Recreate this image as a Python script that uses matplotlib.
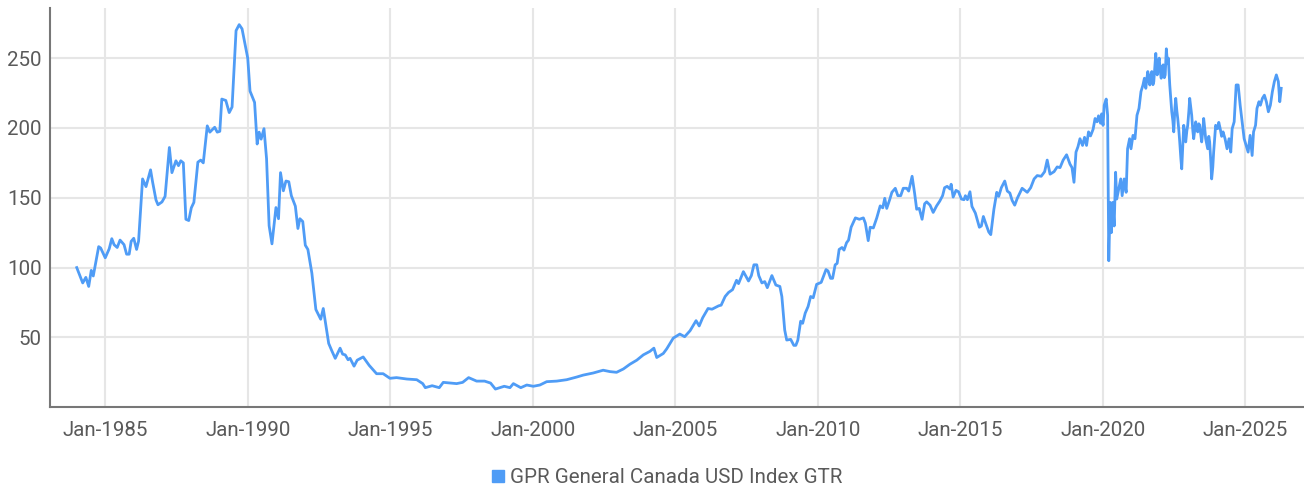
import matplotlib.pyplot as plt
from matplotlib.lines import Line2D

# Index level (decimal year, value)
years = [
    1984.00, 1984.21, 1984.32, 1984.42, 1984.51, 1984.58, 1984.77, 1984.84, 1985.00, 1985.14,
    1985.23, 1985.31, 1985.42, 1985.52, 1985.66, 1985.75, 1985.84, 1985.91, 1986.00, 1986.10,
    1986.17, 1986.31, 1986.43, 1986.59, 1986.66, 1986.78, 1986.85, 1986.99, 1987.10, 1987.25,
    1987.34, 1987.48, 1987.57, 1987.65, 1987.74, 1987.83, 1987.93, 1988.02, 1988.11, 1988.25,
    1988.35, 1988.44, 1988.58, 1988.67, 1988.84, 1988.93, 1989.02, 1989.09, 1989.23, 1989.35,
    1989.45, 1989.59, 1989.70, 1989.80, 1990.00, 1990.08, 1990.24, 1990.33, 1990.40, 1990.47,
    1990.57, 1990.66, 1990.75, 1990.85, 1990.99, 1991.08, 1991.15, 1991.25, 1991.34, 1991.44,
    1991.53, 1991.67, 1991.76, 1991.83, 1991.93, 1992.02, 1992.11, 1992.25, 1992.39, 1992.56,
    1992.65, 1992.84, 1992.95, 1993.07, 1993.24, 1993.33, 1993.42, 1993.52, 1993.59, 1993.73,
    1993.84, 1994.05, 1994.26, 1994.52, 1994.75, 1994.99, 1995.22, 1995.58, 1995.93, 1996.14,
    1996.23, 1996.47, 1996.72, 1996.86, 1997.33, 1997.54, 1997.75, 1998.03, 1998.31, 1998.52,
    1998.69, 1999.00, 1999.20, 1999.32, 1999.58, 1999.79, 2000.02, 2000.25, 2000.49, 2000.84,
    2001.19, 2001.54, 2001.77, 2002.12, 2002.47, 2002.71, 2002.94, 2003.18, 2003.41, 2003.65,
    2003.88, 2004.11, 2004.25, 2004.35, 2004.58, 2004.70, 2004.93, 2005.16, 2005.33, 2005.52,
    2005.73, 2005.84, 2005.96, 2006.15, 2006.29, 2006.52, 2006.61, 2006.75, 2006.87, 2007.01,
    2007.15, 2007.22, 2007.39, 2007.57, 2007.67, 2007.76, 2007.86, 2007.93, 2008.04, 2008.14,
    2008.23, 2008.39, 2008.53, 2008.67, 2008.74, 2008.84, 2008.91, 2009.05, 2009.16, 2009.23,
    2009.30, 2009.40, 2009.47, 2009.56, 2009.66, 2009.75, 2009.84, 2009.96, 2010.12, 2010.29,
    2010.36, 2010.45, 2010.52, 2010.61, 2010.68, 2010.75, 2010.85, 2010.92, 2011.01, 2011.08,
    2011.17, 2011.32, 2011.46, 2011.60, 2011.67, 2011.77, 2011.84, 2011.95, 2012.07, 2012.19,
    2012.28, 2012.35, 2012.42, 2012.53, 2012.60, 2012.72, 2012.81, 2012.91, 2013.00, 2013.12,
    2013.19, 2013.31, 2013.40, 2013.47, 2013.56, 2013.66, 2013.75, 2013.82, 2013.94, 2014.05,
    2014.17, 2014.28, 2014.38, 2014.45, 2014.54, 2014.64, 2014.68, 2014.75, 2014.85, 2014.94,
    2015.04, 2015.13, 2015.18, 2015.25, 2015.34, 2015.41, 2015.53, 2015.67, 2015.74, 2015.81,
    2015.90, 2016.00, 2016.07, 2016.18, 2016.28, 2016.35, 2016.44, 2016.56, 2016.65, 2016.74,
    2016.82, 2016.91, 2017.00, 2017.17, 2017.35, 2017.47, 2017.59, 2017.70, 2017.84, 2017.96,
    2018.05, 2018.15, 2018.29, 2018.40, 2018.50, 2018.61, 2018.73, 2018.85, 2018.92, 2018.99,
    2019.06, 2019.13, 2019.20, 2019.29, 2019.36, 2019.43, 2019.50, 2019.57, 2019.66, 2019.73,
    2019.80, 2019.85, 2019.92, 2019.96, 2020.01, 2020.05, 2020.12, 2020.17, 2020.21, 2020.26,
    2020.30, 2020.35, 2020.40, 2020.45, 2020.49, 2020.56, 2020.63, 2020.68, 2020.75, 2020.82,
    2020.87, 2020.94, 2020.99, 2021.06, 2021.13, 2021.20, 2021.27, 2021.34, 2021.41, 2021.46,
    2021.51, 2021.55, 2021.58, 2021.62, 2021.65, 2021.69, 2021.72, 2021.76, 2021.79, 2021.83,
    2021.86, 2021.89, 2021.91, 2021.95, 2021.98, 2022.02, 2022.05, 2022.09, 2022.12, 2022.16,
    2022.19, 2022.23, 2022.27, 2022.30, 2022.35, 2022.39, 2022.42, 2022.46, 2022.49, 2022.53,
    2022.56, 2022.60, 2022.63, 2022.67, 2022.70, 2022.74, 2022.77, 2022.81, 2022.84, 2022.88,
    2022.91, 2022.95, 2022.98, 2023.02, 2023.05, 2023.09, 2023.12, 2023.16, 2023.19, 2023.23,
    2023.26, 2023.30, 2023.33, 2023.37, 2023.40, 2023.44, 2023.47, 2023.51, 2023.54, 2023.58,
    2023.61, 2023.65, 2023.68, 2023.72, 2023.75, 2023.79, 2023.82, 2023.86, 2023.89, 2023.93,
    2023.96, 2024.03, 2024.07, 2024.12, 2024.17, 2024.22, 2024.29, 2024.36, 2024.43, 2024.49,
    2024.54, 2024.61, 2024.68, 2024.75, 2024.82, 2024.89, 2024.96, 2025.03, 2025.10, 2025.17,
    2025.24, 2025.29, 2025.36, 2025.41, 2025.48, 2025.53, 2025.60, 2025.67, 2025.74, 2025.81,
    2025.88, 2025.95, 2026.02, 2026.09, 2026.16, 2026.21, 2026.26,
]
index_gtr = [
    100.0, 89.0, 93.0, 86.5, 98.0, 94.0, 115.0, 114.0, 107.0, 113.5,
    120.7, 116.4, 114.4, 119.7, 116.4, 109.6, 109.6, 118.8, 121.0, 113.0,
    119.0, 163.5, 158.0, 170.0, 161.5, 148.5, 145.0, 147.0, 151.0, 186.0,
    168.0, 176.5, 173.0, 176.5, 175.0, 134.6, 133.7, 142.8, 146.7, 175.5,
    177.0, 175.0, 201.5, 197.0, 200.5, 197.0, 197.6, 220.7, 219.7, 211.0,
    215.0, 269.7, 274.0, 271.0, 250.0, 226.4, 218.3, 188.5, 197.0, 192.0,
    199.5, 178.0, 130.0, 117.0, 143.0, 135.0, 168.0, 155.0, 162.0, 161.5,
    151.5, 144.0, 128.0, 135.0, 133.0, 116.0, 113.0, 96.0, 70.0, 63.0,
    70.7, 45.7, 40.4, 35.0, 42.3, 38.0, 37.5, 34.0, 35.0, 29.4,
    33.7, 36.0, 30.0, 24.0, 24.0, 20.7, 21.2, 20.2, 19.7, 16.9,
    14.0, 15.4, 14.0, 17.8, 16.9, 17.8, 21.2, 18.7, 18.7, 17.3,
    13.0, 15.0, 14.0, 16.9, 14.0, 15.9, 15.0, 15.9, 18.3, 18.7,
    19.7, 21.6, 23.0, 24.5, 26.5, 25.5, 25.0, 27.4, 30.8, 33.7,
    37.5, 40.0, 42.3, 35.6, 38.5, 41.8, 49.5, 52.4, 50.5, 54.8,
    62.0, 58.2, 64.0, 70.7, 70.2, 72.6, 73.1, 79.3, 82.2, 84.2,
    90.9, 88.5, 97.1, 90.4, 94.3, 102.0, 102.0, 94.3, 89.0, 90.0,
    85.6, 94.3, 87.5, 86.5, 79.3, 55.3, 48.1, 48.6, 44.3, 44.3,
    48.0, 61.6, 60.1, 67.4, 72.1, 79.3, 78.4, 88.0, 89.4, 98.6,
    97.6, 92.3, 92.3, 102.0, 103.0, 113.0, 114.4, 112.5, 117.8, 119.7,
    128.9, 135.6, 134.6, 135.6, 131.8, 119.3, 128.9, 128.4, 135.6, 144.2,
    142.8, 149.6, 142.4, 149.1, 153.9, 156.8, 151.5, 151.5, 156.8, 156.8,
    154.8, 165.4, 152.9, 141.8, 142.4, 134.6, 145.7, 147.1, 144.7, 139.5,
    144.2, 147.6, 151.5, 157.2, 158.2, 156.3, 159.7, 150.5, 155.3, 154.3,
    149.1, 148.6, 151.5, 148.6, 154.3, 143.8, 139.0, 128.9, 129.8, 136.6,
    131.2, 125.5, 123.6, 141.8, 153.9, 151.0, 157.2, 162.0, 154.8, 153.4,
    148.1, 144.7, 149.6, 156.8, 153.9, 157.2, 163.5, 165.9, 165.4, 168.7,
    177.0, 166.9, 168.7, 172.1, 171.6, 177.0, 180.8, 174.1, 171.6, 161.1,
    182.7, 186.6, 192.3, 187.5, 193.3, 187.5, 197.2, 194.3, 199.0, 206.8,
    204.4, 208.7, 203.4, 210.1, 201.9, 216.3, 220.7, 209.1, 104.9, 146.7,
    125.0, 146.7, 129.8, 168.3, 149.1, 156.3, 163.5, 151.5, 163.5, 153.9,
    185.1, 192.3, 185.1, 194.7, 192.3, 209.1, 214.0, 226.0, 230.8, 235.6,
    228.4, 236.0, 240.4, 233.0, 230.8, 238.5, 240.4, 231.0, 233.2, 245.0,
    253.4, 242.0, 238.0, 247.0, 250.0, 240.0, 235.6, 244.0, 245.2, 236.0,
    238.0, 256.7, 246.0, 250.0, 230.8, 220.0, 211.6, 205.0, 197.2, 214.0,
    221.2, 212.0, 206.8, 198.0, 190.0, 178.0, 170.7, 188.0, 201.9, 196.0,
    190.0, 198.0, 201.9, 212.0, 221.2, 214.0, 209.1, 198.0, 192.3, 199.0,
    204.4, 199.0, 197.2, 203.0, 201.9, 195.0, 190.0, 198.0, 206.8, 199.0,
    192.3, 188.0, 185.1, 194.0, 190.0, 176.0, 163.5, 172.0, 182.7, 194.0,
    201.9, 199.5, 204.0, 199.5, 194.0, 197.2, 192.3, 185.1, 192.3, 182.7,
    199.5, 204.4, 230.8, 230.8, 216.3, 204.4, 192.3, 187.5, 182.7, 194.7,
    180.3, 197.2, 201.9, 214.0, 218.8, 216.3, 221.2, 223.5, 218.8, 211.6,
    216.3, 226.0, 233.2, 238.0, 233.2, 218.8, 228.4,
]
tick_years = [1985, 1990, 1995, 2000, 2005, 2010, 2015, 2020, 2025]
tick_labels = [f'Jan-{y}' for y in tick_years]
y_ticks = [50, 100, 150, 200, 250]
series_name = 'GPR General Canada USD Index GTR'

line_color = '#4f9cf6'
text_color = '#5a5a5a'

plt.rcParams['font.family'] = ['Roboto', 'DejaVu Sans']

fig = plt.figure(figsize=(13.04, 4.93), dpi=100)
ax = fig.add_axes([0.0383, 0.174, 0.9617, 0.81])

ax.plot(years, index_gtr, color=line_color, linewidth=2.0, zorder=3)

ax.set_xlim(1983.06, 2027.06)
ax.set_ylim(0, 286)
ax.set_xticks(tick_years)
ax.set_xticklabels(tick_labels)
ax.set_yticks(y_ticks)

ax.grid(True, color='#e6e6e6', linewidth=1.5)
ax.set_axisbelow(True)
ax.tick_params(length=0, labelsize=14.8, colors=text_color)
ax.tick_params(axis='x', pad=10)
ax.tick_params(axis='y', pad=6)

for side in ['top', 'right']:
    ax.spines[side].set_visible(False)
for side in ['left', 'bottom']:
    ax.spines[side].set_color('#777777')
    ax.spines[side].set_linewidth(1.5)

handle = Line2D([0], [0], marker='s', linestyle='none', color=line_color, markersize=8)
fig.legend(handles=[handle], labels=[series_name], loc='center', bbox_to_anchor=(0.511, 0.031),
           frameon=False, fontsize=14.8, labelcolor=text_color, handletextpad=0.2, handlelength=0.8)

fig.savefig('out.png', dpi=100)
